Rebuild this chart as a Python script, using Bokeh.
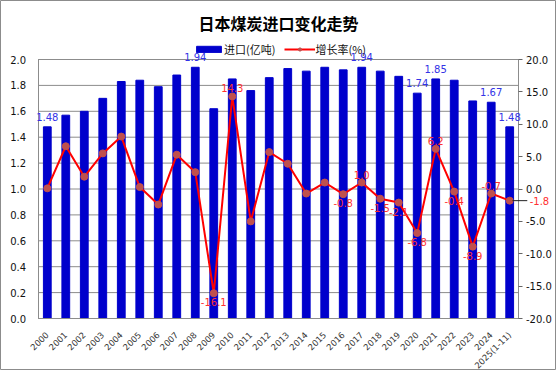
from bokeh.plotting import figure
from bokeh.models import (FactorRange, Range1d, LinearAxis, FixedTicker, NumeralTickFormatter,
                          ColumnDataSource, LabelSet, Label, Legend, LegendItem, Arrow)
from bokeh.core.properties import value
from bokeh.embed import file_html
from bokeh.resources import INLINE

# ---------------- data ----------------
years = ["2000", "2001", "2002", "2003", "2004", "2005", "2006", "2007", "2008", "2009",
         "2010", "2011", "2012", "2013", "2014", "2015", "2016", "2017", "2018", "2019",
         "2020", "2021", "2022", "2023", "2024", "2025(1-11)"]
imports = [1.48, 1.57, 1.60, 1.70, 1.83, 1.84, 1.79, 1.88, 1.94, 1.62,
           1.85, 1.76, 1.86, 1.93, 1.91, 1.94, 1.92, 1.94, 1.91, 1.87,
           1.74, 1.85, 1.84, 1.68, 1.67, 1.48]
growth = [0.1, 6.6, 1.9, 5.5, 8.1, 0.3, -2.4, 5.3, 2.6, -16.1,
          14.3, -5.0, 5.7, 3.9, -0.7, 1.0, -0.8, 1.0, -1.5, -2.1,
          -6.8, 6.2, -0.4, -8.9, -0.7, -1.8]
left_ticks = [0.0, 0.2, 0.4, 0.6, 0.8, 1.0, 1.2, 1.4, 1.6, 1.8, 2.0]
right_ticks = [-20.0, -15.0, -10.0, -5.0, 0.0, 5.0, 10.0, 15.0, 20.0]

bar_label_years = ["2000", "2008", "2017", "2020", "2021", "2024", "2025(1-11)"]
line_label_above = ["2010", "2017", "2021", "2024"]
line_label_below = ["2009", "2016", "2018", "2019", "2020", "2022", "2023"]
line_label_right = ["2025(1-11)"]

title_text = "日本煤炭进口变化走势"
bar_name = "进口(亿吨)"
line_name = "增长率(%)"

# ---------------- styles / layout ----------------
BAR_COLOR = "#0000CC"
LINE_COLOR = "#FF0000"
MARK_COLOR = "#C0504D"
GRID_COLOR = "#8C8C8C"
NUM_FONT = "DejaVu Sans"
CJK_FONT = "Noto Sans CJK SC"

W, H = 556, 370
n = len(years)
L_MIN, L_MAX = 0.0, 2.0
R_MIN, R_MAX = -20.0, 20.0
top_px, bottom_px = 59, 52          # free space above / below the plotting area
px_per_unit = (H - top_px - bottom_px) / (L_MAX - L_MIN)
y_lo = L_MIN - bottom_px / px_per_unit
y_hi = L_MAX + top_px / px_per_unit
k = (R_MAX - R_MIN) / (L_MAX - L_MIN)
r_lo = R_MIN + (y_lo - L_MIN) * k
r_hi = R_MIN + (y_hi - L_MIN) * k

src = ColumnDataSource(dict(years=years, imports=imports, growth=growth))

p = figure(width=W, height=H,
           x_range=FactorRange(factors=years, range_padding=2.03, range_padding_units="absolute"),
           y_range=Range1d(y_lo, y_hi), output_backend="svg", toolbar_location=None,
           min_border=0)
p.extra_y_ranges = {"right": Range1d(r_lo, r_hi)}
p.background_fill_color = "white"
p.border_fill_color = "white"
p.outline_line_color = GRID_COLOR
p.xgrid.visible = False
p.ygrid.visible = False

# grid lines across the plotting area
gsrc = ColumnDataSource(dict(y=left_ticks, x0=[0] * len(left_ticks), x1=[n] * len(left_ticks)))
p.segment(x0="x0", x1="x1", y0="y", y1="y", source=gsrc, line_color=GRID_COLOR,
          line_width=1, level="underlay")

bars = p.vbar(x="years", top="imports", width=0.42, source=src,
              fill_color=BAR_COLOR, line_color=BAR_COLOR)
line = p.line(x="years", y="growth", source=src, y_range_name="right",
              line_color=LINE_COLOR, line_width=2)
marks = p.scatter(x="years", y="growth", source=src, y_range_name="right", size=7,
                  fill_color=MARK_COLOR, line_color=MARK_COLOR)

# axes (fixed inside the frame)
xa = p.xaxis[0]
xa.fixed_location = 0
xa.bounds = (0, n)
xa.major_label_orientation = 0.785398
xa.major_label_text_font = NUM_FONT
xa.major_label_text_font_size = "8.5px"
xa.major_label_text_color = "#333333"
xa.major_label_standoff = 9
xa.major_tick_line_color = None
xa.axis_line_color = GRID_COLOR

ya = p.yaxis[0]
ya.fixed_location = 0
ya.bounds = (L_MIN, L_MAX)
ya.ticker = FixedTicker(ticks=left_ticks)
ya.formatter = NumeralTickFormatter(format="0.0")
ya.major_label_text_font = NUM_FONT
ya.major_label_text_font_size = "10px"
ya.major_label_text_color = "#111111"
ya.major_tick_line_color = None
ya.minor_tick_line_color = None
ya.axis_line_color = GRID_COLOR
ya.major_label_standoff = 6

raxis = LinearAxis(y_range_name="right", ticker=FixedTicker(ticks=right_ticks),
                   formatter=NumeralTickFormatter(format="0.0"), fixed_location=n,
                   bounds=(R_MIN, R_MAX))
raxis.major_label_text_font = NUM_FONT
raxis.major_label_text_font_size = "10px"
raxis.major_label_text_color = "#111111"
raxis.major_tick_out = 4
raxis.major_tick_in = 0
raxis.major_tick_line_color = "#666666"
raxis.minor_tick_line_color = None
raxis.axis_line_color = GRID_COLOR
raxis.major_label_standoff = 3
p.add_layout(raxis, "right")

# data labels
def subset(sel):
    idx = [years.index(y) for y in sel]
    return ColumnDataSource(dict(
        years=[years[i] for i in idx],
        imports=[imports[i] for i in idx],
        growth=[growth[i] for i in idx],
        itxt=["%.2f" % imports[i] for i in idx],
        gtxt=["%.1f" % growth[i] for i in idx]))

bar_lbl = LabelSet(x="years", y="imports", text="itxt", source=subset(bar_label_years),
                   text_align="center", text_baseline="bottom", y_offset=6,
                   text_font=value(NUM_FONT), text_font_size="10px", text_color="#3333E6")
p.add_layout(bar_lbl)

up_lbl = LabelSet(x="years", y="growth", text="gtxt", source=subset(line_label_above),
                  y_range_name="right", text_align="center", text_baseline="bottom", y_offset=4,
                  text_font=value(NUM_FONT), text_font_size="10px", text_color="#FF3030")
dn_lbl = LabelSet(x="years", y="growth", text="gtxt", source=subset(line_label_below),
                  y_range_name="right", text_align="center", text_baseline="top", y_offset=-5,
                  text_font=value(NUM_FONT), text_font_size="10px", text_color="#FF3030")
rt_lbl = LabelSet(x="years", y="growth", text="gtxt", source=subset(line_label_right),
                  y_range_name="right", text_align="left", text_baseline="middle", x_offset=20,
                  text_font=value(NUM_FONT), text_font_size="10px", text_color="#FF3030")
p.add_layout(up_lbl)
p.add_layout(dn_lbl)
p.add_layout(rt_lbl)

last = n - 1
leader = Arrow(start=None, end=None, x_start=last + 0.65, y_start=growth[last],
               x_end=last + 1.45, y_end=growth[last], y_range_name="right",
               line_color="#222222", line_width=1)
p.add_layout(leader)

# title
p.add_layout(Label(x=n / 2, y=L_MAX + 37 / px_per_unit, text=title_text, text_align="center",
                   text_baseline="middle", text_font=CJK_FONT, text_font_size="16px",
                   text_font_style="bold", text_color="#000000"))

# legend
legend = Legend(items=[LegendItem(label=bar_name, renderers=[bars]),
                       LegendItem(label=line_name, renderers=[line, marks])],
                orientation="horizontal", location=(193, H - 57),
                glyph_width=31, glyph_height=8, label_height=12, label_standoff=0,
                spacing=9, padding=0, margin=0,
                background_fill_alpha=0, border_line_alpha=0,
                label_text_font=CJK_FONT, label_text_font_size="11px",
                label_text_color="#111111")
p.add_layout(legend)

open("out.html", "w").write(file_html(p, INLINE))
